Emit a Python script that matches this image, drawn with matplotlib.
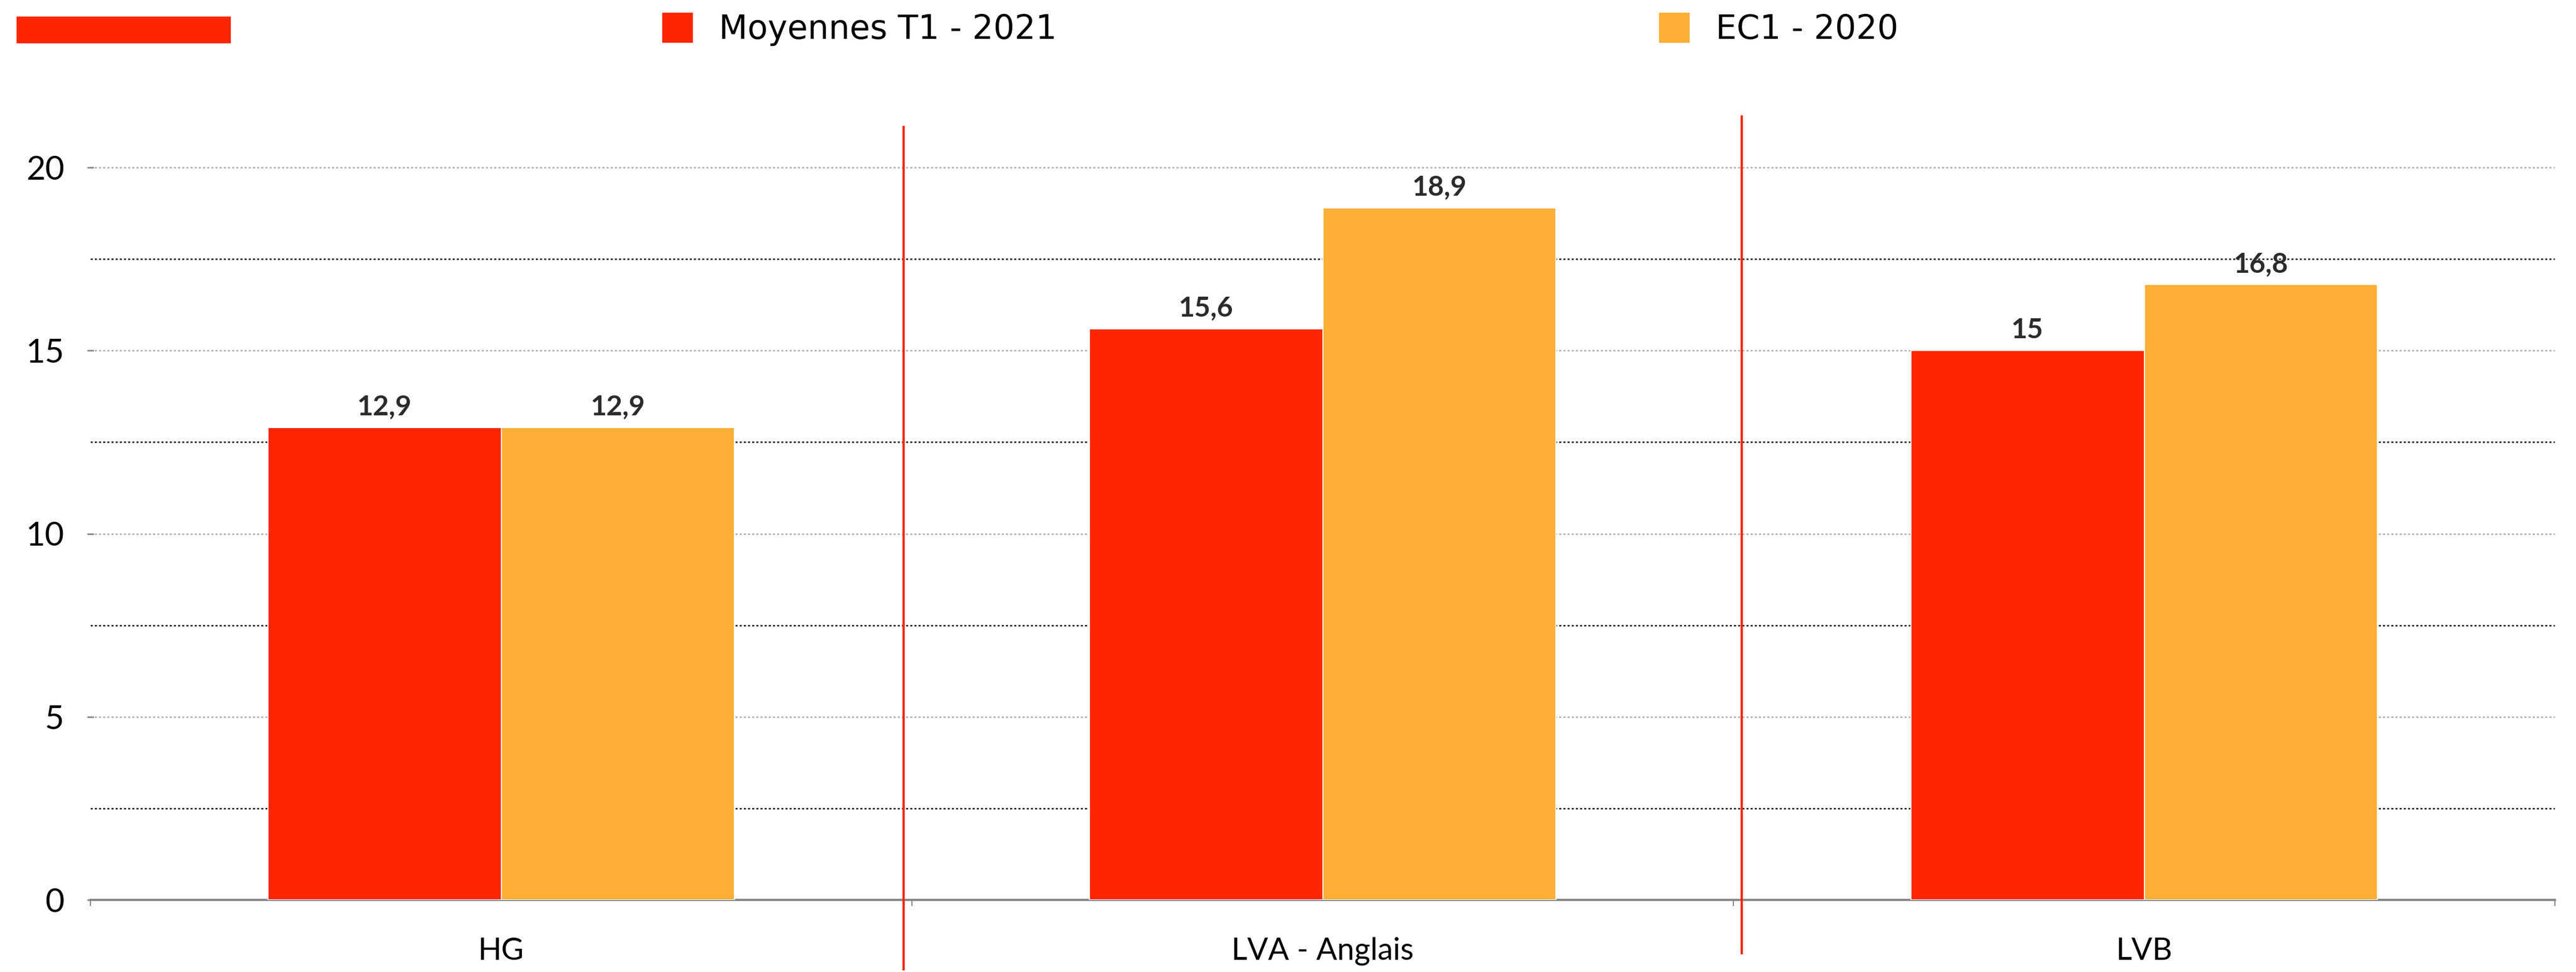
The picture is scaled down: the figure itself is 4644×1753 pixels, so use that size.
import matplotlib
matplotlib.use("Agg")
import matplotlib.pyplot as plt
from matplotlib.patches import Patch, Rectangle
from matplotlib.ticker import MultipleLocator, FixedLocator

# données
categories = ['HG', 'LVA - Anglais', 'LVB']
moyennes_t1_2021 = [12.9, 15.6, 15.0]
ec1_2020 = [12.9, 18.9, 16.8]
series_names = ['Moyennes T1 - 2021', 'EC1 - 2020']

# traits rouges de séparation (ajoutés à la main sur le graphique)
sep_x = [0.49, 1.51]
sep_top = [21.1, 21.4]
sep_bottom = [-1.9, -1.45]

RED = '#FF2600'
ORANGE = '#FFAE36'

plt.rcParams['font.family'] = ['Lato', 'DejaVu Sans']

W, H = 4644, 1753
fig = plt.figure(figsize=(W / 100, H / 100), dpi=100)
ax = fig.add_axes([163 / W, 1 - 1623 / H, (4606 - 163) / W, 22 * 66.05 / H])

x = list(range(len(categories)))
width = 0.284
bars1 = ax.bar([i - width / 2 for i in x], moyennes_t1_2021, width, color=RED,
               edgecolor='white', linewidth=1.5, zorder=3)
bars2 = ax.bar([i + width / 2 for i in x], ec1_2020, width, color=ORANGE,
               edgecolor='white', linewidth=1.5, zorder=3)

def fmt(v):
    s = f"{v:g}"
    return s.replace('.', ',')

for bars, vals in [(bars1, moyennes_t1_2021), (bars2, ec1_2020)]:
    ax.bar_label(bars, labels=[fmt(v) for v in vals], padding=10, fontsize=36,
                 color='#2b2b2b', fontweight='bold')

ax.set_xlim(-0.5, 2.5)
ax.set_ylim(0, 22)

ax.yaxis.set_major_locator(MultipleLocator(5))
ax.yaxis.set_minor_locator(FixedLocator([2.5, 7.5, 12.5, 17.5]))
ax.grid(axis='y', which='major', color='#aaaaaa', linestyle=(0, (1.5, 1.5)), linewidth=1.8, zorder=0)
ax.grid(axis='y', which='minor', color='#111111', linestyle=(0, (1.5, 1.5)), linewidth=1.8, zorder=0)
ax.set_axisbelow(True)

ax.set_xticks(x)
ax.set_xticklabels(categories)
ax.xaxis.set_minor_locator(FixedLocator([-0.5, 0.5, 1.5, 2.5]))
ax.tick_params(axis='x', which='major', length=0, pad=48, labelsize=40)
ax.tick_params(axis='x', which='minor', length=8, width=1.5, color='#888888')
ax.tick_params(axis='y', which='major', length=8, width=2, color='#888888',
               direction='inout', pad=30, labelsize=43)
ax.tick_params(axis='y', which='minor', length=0)

for s in ['top', 'right', 'left']:
    ax.spines[s].set_visible(False)
ax.spines['bottom'].set_color('#888888')
ax.spines['bottom'].set_linewidth(3)

for sx, st, sb in zip(sep_x, sep_top, sep_bottom):
    ax.plot([sx, sx], [sb, st], color=RED, linewidth=3, clip_on=False, zorder=4)

# rectangle rouge en haut à gauche
fig.add_artist(Rectangle((30 / W, 1 - 77 / H), 385 / W, 47 / H,
                         transform=fig.transFigure, color=RED))

# légende
for name, col, lx in [(series_names[0], RED, 1194), (series_names[1], ORANGE, 2991)]:
    fig.legend(handles=[Patch(color=col)], labels=[name], loc='center left',
               bbox_to_anchor=(lx / W, 1 - 53 / H), frameon=False, borderpad=0,
               borderaxespad=0, handlelength=0.9, handleheight=1.0,
               handletextpad=0.8, prop={'family': 'DejaVu Sans', 'size': 43})

fig.savefig('out.png', dpi=100)
